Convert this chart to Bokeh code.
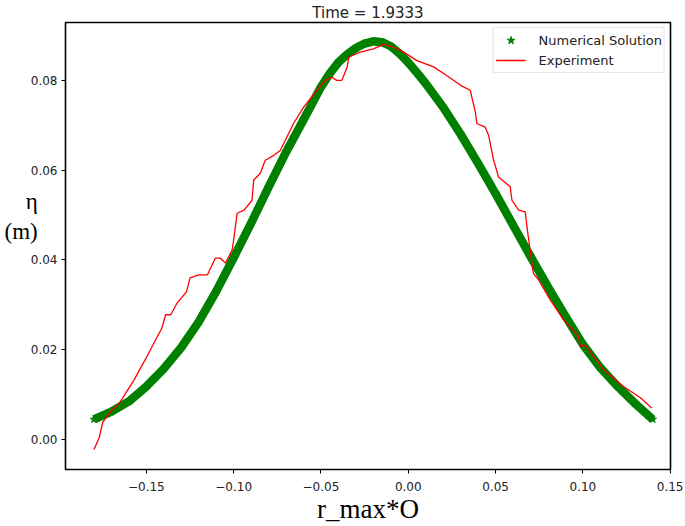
from bokeh.plotting import figure
from bokeh.models import Range1d, FixedTicker, CustomJSTickFormatter, Legend, LegendItem, ColumnDataSource
from bokeh.embed import file_html
from bokeh.resources import INLINE

# ---- data ----
num_x = [-0.18, -0.17, -0.16, -0.15, -0.14, -0.13, -0.12, -0.11, -0.10, -0.09,
         -0.08, -0.07, -0.06, -0.05, -0.045, -0.04, -0.035, -0.03, -0.025, -0.02,
         -0.015, -0.01, -0.005, 0.00, 0.005, 0.01, 0.02, 0.03, 0.04, 0.05,
         0.06, 0.07, 0.08, 0.09, 0.10, 0.11, 0.12, 0.13, 0.14]
num_eta = [0.0045, 0.0062, 0.0085, 0.0118, 0.0158, 0.0205, 0.0262, 0.0330, 0.0405, 0.0482,
           0.0562, 0.0640, 0.0712, 0.0785, 0.0815, 0.0840, 0.0858, 0.0872, 0.0882, 0.0887,
           0.0885, 0.0876, 0.0860, 0.0840, 0.0817, 0.0793, 0.0740, 0.0680, 0.0615, 0.0548,
           0.0478, 0.0408, 0.0340, 0.0275, 0.0212, 0.0160, 0.0118, 0.0080, 0.0045]

exp_x = [-0.180, -0.177, -0.175, -0.1706, -0.166, -0.163, -0.157, -0.1497, -0.141, -0.139,
         -0.136, -0.1324, -0.127, -0.125, -0.120, -0.115, -0.1105, -0.1076, -0.1047, -0.1009,
         -0.100, -0.098, -0.094, -0.0895, -0.0885, -0.0847, -0.0819, -0.077, -0.0733, -0.0657,
         -0.060, -0.0523, -0.0475, -0.0437, -0.041, -0.038, -0.035, -0.034, -0.0275, -0.020,
         -0.014, -0.0084, -0.0027, 0.005, 0.0145, 0.022, 0.030, 0.0355, 0.0384, 0.0393,
         0.044, 0.046, 0.0489, 0.0517, 0.0584, 0.0594, 0.0632, 0.067, 0.068, 0.070,
         0.0717, 0.0746, 0.0813, 0.0889, 0.0975, 0.0985, 0.1013, 0.1118, 0.1233, 0.133,
         0.1395]
exp_eta = [-0.0022, 0.0004, 0.0038, 0.0062, 0.0078, 0.0096, 0.0133, 0.0185, 0.0249, 0.0278,
           0.0278, 0.0304, 0.0329, 0.0360, 0.0367, 0.0367, 0.0404, 0.0404, 0.0393, 0.0422,
           0.0444, 0.0504, 0.0511, 0.0533, 0.0578, 0.0593, 0.0622, 0.0633, 0.0644, 0.0704,
           0.0740, 0.0778, 0.0800, 0.0807, 0.0800, 0.0800, 0.0830, 0.0852, 0.0863, 0.0870,
           0.0880, 0.0874, 0.0863, 0.0844, 0.0830, 0.0811, 0.0789, 0.0778, 0.0730, 0.0704,
           0.0696, 0.0678, 0.0622, 0.0585, 0.0563, 0.0533, 0.0511, 0.0507, 0.0474, 0.0415,
           0.0370, 0.0356, 0.0311, 0.0267, 0.0230, 0.0207, 0.0211, 0.0156, 0.0118, 0.0093,
           0.0070]

x_ticks = [-0.15, -0.10, -0.05, 0.00, 0.05, 0.10, 0.15]
y_ticks = [0.00, 0.02, 0.04, 0.06, 0.08]

title_text = "Time = 1.9333"
x_label = "r_max*O"
y_label = "η\n(m)\n\u00a0\n\u00a0"   # two blank lines lift the visible label above the axis centre
legend_labels = ["Numerical Solution", "Experiment"]

# ---- figure ----
p = figure(width=685, height=526, output_backend="svg", toolbar_location=None,
           x_range=Range1d(-0.1963, 0.1502), y_range=Range1d(-0.00667, 0.09289),
           min_border_left=65, min_border_right=15, min_border_top=22, min_border_bottom=56)
p.grid.visible = False
p.background_fill_color = "white"
p.border_fill_color = "white"
p.outline_line_color = "black"
p.outline_line_width = 1.6

p.title.text = title_text
p.title.align = "center"
p.title.text_font = "DejaVu Sans"
p.title.text_font_size = "15px"
p.title.text_font_style = "normal"
p.title.text_color = "#222222"
p.title.standoff = 1

fmt = CustomJSTickFormatter(code='return (tick < -1e-9 ? "\\u2212" : "") + Math.abs(tick).toFixed(2);')
for ax, ticks in ((p.xaxis[0], x_ticks), (p.yaxis[0], y_ticks)):
    ax.ticker = FixedTicker(ticks=ticks)
    ax.formatter = fmt
    ax.axis_line_color = None
    ax.major_tick_line_color = "black"
    ax.major_tick_line_width = 1
    ax.major_tick_out = 4
    ax.major_tick_in = 0
    ax.minor_tick_line_color = None
    ax.major_label_text_font = "DejaVu Sans"
    ax.major_label_text_font_size = "12px"
    ax.major_label_text_color = "#222222"
    ax.axis_label_text_font = "Liberation Serif"
    ax.axis_label_text_font_style = "normal"
    ax.axis_label_text_color = "black"
    ax.axis_label_standoff = 0
p.xaxis[0].major_label_standoff = 8
p.yaxis[0].major_label_standoff = 4
p.xaxis[0].axis_label = x_label
p.xaxis[0].axis_label_text_font_size = "27px"
p.yaxis[0].axis_label = y_label
p.yaxis[0].axis_label_text_font_size = "23px"
p.yaxis[0].axis_label_orientation = "horizontal"
p.yaxis[0].axis_label_standoff = -10

src_num = ColumnDataSource(dict(x=num_x, y=num_eta))
src_exp = ColumnDataSource(dict(x=exp_x, y=exp_eta))

band = p.line("x", "y", source=src_num, line_color="green", line_width=8.5, line_cap="butt", line_join="round")
stars = p.scatter("x", "y", source=src_num, marker="star", size=8, fill_color="green", line_color="green")
exp_line = p.line("x", "y", source=src_exp, line_color="red", line_width=1.3)

legend = Legend(items=[LegendItem(label=legend_labels[0], renderers=[stars]),
                       LegendItem(label=legend_labels[1], renderers=[exp_line])],
                location="top_right")
legend.label_text_font = "DejaVu Sans"
legend.label_text_font_size = "13px"
legend.label_text_color = "#222222"
legend.border_line_color = "#cccccc"
legend.border_line_width = 1
legend.background_fill_alpha = 0.8
legend.padding = 2
legend.spacing = 0
legend.margin = 5
legend.glyph_width = 30
legend.glyph_height = 20
legend.label_height = 20
legend.label_standoff = 13
p.add_layout(legend)

open("out.html", "w").write(file_html(p, INLINE))
